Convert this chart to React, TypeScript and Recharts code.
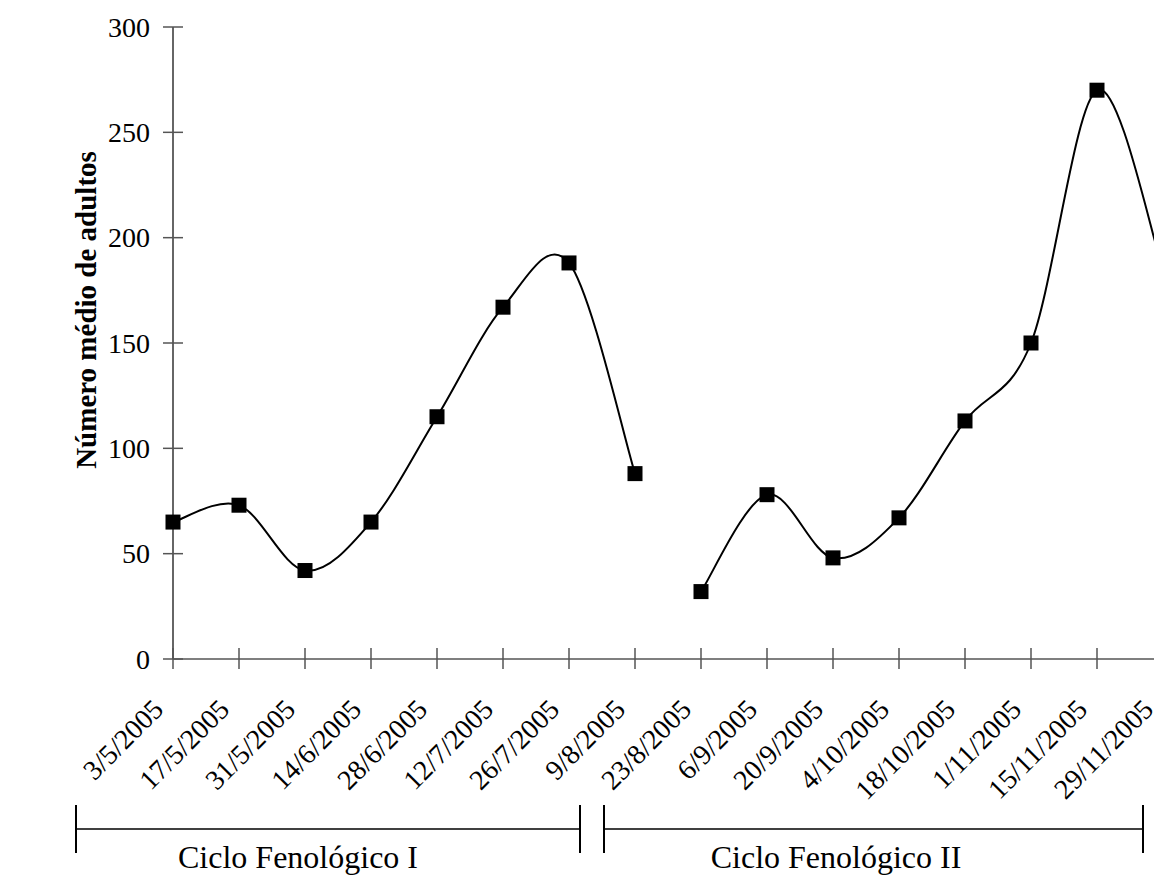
import * as React from 'react';
import { LineChart, Line, XAxis, YAxis, Customized } from 'recharts';

const fechas = [
  '3/5/2005', '17/5/2005', '31/5/2005', '14/6/2005', '28/6/2005', '12/7/2005', '26/7/2005', '9/8/2005',
  '23/8/2005', '6/9/2005', '20/9/2005', '4/10/2005', '18/10/2005', '1/11/2005', '15/11/2005', '29/11/2005',
];
// Ciclo Fenológico I: 3/5 to 9/8
const cicloI = [65, 73, 42, 65, 115, 167, 188, 88];
// Ciclo Fenológico II: 23/8 to 29/11
const cicloII = [32, 78, 48, 67, 113, 150, 270, 185];
const yTicks = [0, 50, 100, 150, 200, 250, 300];

const FONT = '"Liberation Serif", "Times New Roman", serif';
const AXIS = '#555';

const data = fechas.map((fecha, i) => ({
  fecha,
  c1: i < cicloI.length ? cicloI[i] : null,
  c2: i >= cicloI.length ? cicloII[i - cicloI.length] : null,
}));

// Excel-like smoothed line (Catmull-Rom through every point)
function smoothCurve(context: any) {
  let pts: number[][] = [];
  return {
    areaStart() {},
    areaEnd() {},
    lineStart() {
      pts = [];
    },
    point(x: number, y: number) {
      pts.push([+x, +y]);
    },
    lineEnd() {
      if (!pts.length) return;
      context.moveTo(pts[0][0], pts[0][1]);
      for (let i = 0; i < pts.length - 1; i++) {
        const p0 = pts[Math.max(0, i - 1)];
        const p1 = pts[i];
        const p2 = pts[i + 1];
        const p3 = pts[Math.min(pts.length - 1, i + 2)];
        context.bezierCurveTo(
          p1[0] + (p2[0] - p0[0]) / 6,
          p1[1] + (p2[1] - p0[1]) / 6,
          p2[0] - (p3[0] - p1[0]) / 6,
          p2[1] - (p3[1] - p1[1]) / 6,
          p2[0],
          p2[1],
        );
      }
    },
  };
}

function SquareDot(props: any) {
  const { cx, cy, index } = props;
  if (cx == null || cy == null) return <g key={`e-${index}`} />;
  return <rect key={`d-${index}`} x={cx - 7.5} y={cy - 7.5} width={15} height={15} fill="#000" />;
}

function XTick(props: any) {
  const { x, y, payload } = props;
  const tx = x - 8;
  const ty = y + 52;
  return (
    <g>
      <line x1={x} y1={y - 11} x2={x} y2={y + 10} stroke={AXIS} strokeWidth={1.5} />
      <text
        x={tx}
        y={ty}
        textAnchor="end"
        transform={`rotate(-45, ${tx}, ${ty})`}
        fontFamily={FONT}
        fontSize={28}
        fill="#000"
      >
        {payload.value}
      </text>
    </g>
  );
}

function YTick(props: any) {
  const { x, y, payload } = props;
  return (
    <g>
      <line x1={x - 10} y1={y} x2={x + 10} y2={y} stroke={AXIS} strokeWidth={1.5} />
      <text x={x - 23} y={y} dy="0.35em" textAnchor="end" fontFamily={FONT} fontSize={28} fill="#000">
        {payload.value}
      </text>
    </g>
  );
}

function Extras() {
  const bracket = (x1: number, x2: number, cx: number, label: string) => (
    <g>
      <line x1={x1} y1={805} x2={x1} y2={853} stroke="#000" strokeWidth={2} />
      <line x1={x2} y1={805} x2={x2} y2={853} stroke="#000" strokeWidth={2} />
      <line x1={x1} y1={829} x2={x2} y2={829} stroke="#000" strokeWidth={1.5} />
      <text x={cx} y={868} textAnchor="middle" fontFamily={FONT} fontSize={32} fill="#000">
        {label}
      </text>
    </g>
  );
  return (
    <g>
      <text
        x={96}
        y={310}
        textAnchor="middle"
        transform="rotate(-90, 96, 310)"
        fontFamily={FONT}
        fontSize={29}
        fontWeight="bold"
        fill="#000"
      >
        Número médio de adultos
      </text>
      {bracket(76, 580, 298, 'Ciclo Fenológico I')}
      {bracket(604, 1143, 836, 'Ciclo Fenológico II')}
    </g>
  );
}

export default function App() {
  return (
    <div
      style={{
        position: 'absolute',
        left: 0,
        top: 0,
        width: 1154,
        height: 876,
        overflow: 'hidden',
        background: '#fff',
      }}
    >
      <LineChart width={1200} height={876} data={data} margin={{ top: 27, right: 37, bottom: 0, left: 0 }}>
        <XAxis
          dataKey="fecha"
          interval={0}
          height={217}
          tickSize={0}
          tickMargin={0}
          tickLine={false}
          axisLine={{ stroke: AXIS, strokeWidth: 1.5 }}
          tick={<XTick />}
        />
        <YAxis
          type="number"
          domain={[0, 300]}
          ticks={yTicks}
          width={173}
          tickSize={0}
          tickMargin={0}
          tickLine={false}
          axisLine={{ stroke: '#333', strokeWidth: 1.5 }}
          tick={<YTick />}
        />
        <Line
          dataKey="c1"
          type={smoothCurve as any}
          stroke="#000"
          strokeWidth={2}
          dot={SquareDot}
          activeDot={false}
          connectNulls={false}
          isAnimationActive={false}
        />
        <Line
          dataKey="c2"
          type={smoothCurve as any}
          stroke="#000"
          strokeWidth={2}
          dot={SquareDot}
          activeDot={false}
          connectNulls={false}
          isAnimationActive={false}
        />
        <Customized component={Extras} />
      </LineChart>
    </div>
  );
}
